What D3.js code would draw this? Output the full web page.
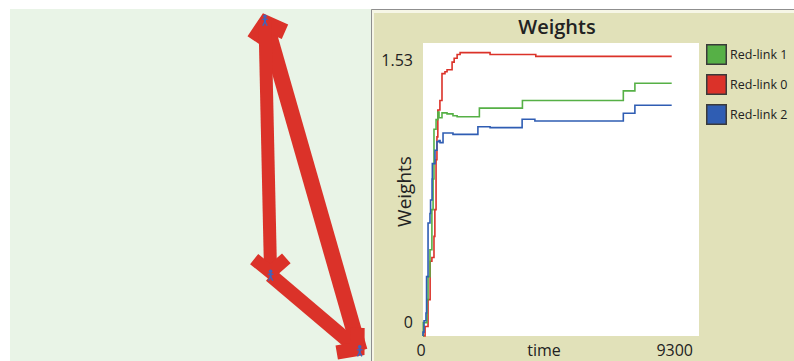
<!DOCTYPE html>
<html>
<head>
<meta charset="utf-8">
<script src="https://cdn.jsdelivr.net/npm/d3@7"></script>
<style>
  body { margin: 0; background: #fff; }
  text { font-family: "Open Sans", sans-serif; fill: #222; }
</style>
</head>
<body>
<svg id="chart" width="794" height="361"></svg>
<script>
// weights over time, step series
const link0Time = [0, 70, 170, 240, 300, 370, 400, 440, 470, 500, 570, 640, 740, 810, 980, 1050, 1150, 1250, 2260, 3800];
const link0Weight = [0, 0.05, 0.19, 0.39, 0.41, 0.52, 0.66, 0.92, 1.04, 1.18, 1.23, 1.37, 1.38, 1.39, 1.43, 1.45, 1.47, 1.48, 1.47, 1.46];
const link1Time = [0, 10, 135, 170, 235, 300, 340, 370, 440, 500, 540, 640, 810, 1010, 1150, 1900, 3350, 6750, 7140];
const link1Weight = [0, 0.07, 0.19, 0.31, 0.45, 0.66, 0.82, 1.08, 1.13, 1.17, 1.14, 1.165, 1.16, 1.15, 1.145, 1.19, 1.23, 1.28, 1.32];
const link2Time = [0, 0, 35, 100, 120, 170, 235, 255, 305, 315, 405, 470, 540, 575, 675, 1010, 1850, 2260, 3340, 3770, 6750, 7140];
const link2Weight = [0, 0.02, 0.08, 0.12, 0.31, 0.59, 0.64, 0.71, 0.82, 0.90, 0.97, 1.015, 1.02, 1.01, 1.06, 1.053, 1.093, 1.088, 1.132, 1.123, 1.163, 1.205];
const lastTime = 8380;

const xTicks = [0, 9300];
const yTicks = [0, 1.53];
const legendNames = ["Red-link 1", "Red-link 0", "Red-link 2"];

// network view: turtles in world coords, links point from -> to
const nodeX = [6.6, 7.1, 15.0];
const nodeY = [15.0, -7.6, -14.3];
const linkFrom = [2, 1, 0];
const linkTo = [0, 2, 1];
const linkName = ["Red-link 0", "Red-link 1", "Red-link 2"];

const colors = { "Red-link 0": "#db3229", "Red-link 1": "#56b046", "Red-link 2": "#2f5db3" };
const series = {
  "Red-link 0": link0Time.map((t, i) => ({ t: t, w: link0Weight[i] })),
  "Red-link 1": link1Time.map((t, i) => ({ t: t, w: link1Weight[i] })),
  "Red-link 2": link2Time.map((t, i) => ({ t: t, w: link2Weight[i] }))
};
Object.values(series).forEach(s => s.push({ t: lastTime, w: s[s.length - 1].w }));

const svg = d3.select("#chart");

/* ---------- left: network view ---------- */
const view = { x0: 10, x1: 371, y0: 9, y1: 361 };
svg.append("rect")
  .attr("x", view.x0).attr("y", view.y0)
  .attr("width", view.x1 - view.x0).attr("height", view.y1 - view.y0)
  .attr("fill", "#e9f4e7");

svg.append("clipPath").attr("id", "viewClip")
  .append("rect")
  .attr("x", view.x0).attr("y", view.y0)
  .attr("width", view.x1 - view.x0).attr("height", view.y1 - view.y0);

const wx = d3.scaleLinear().domain([-16, 16]).range([10, 371]);
const wy = d3.scaleLinear().domain([16, -16]).range([9, 370]);

const net = svg.append("g").attr("clip-path", "url(#viewClip)");

linkName.forEach((name, i) => {
  const s = series[name];
  const thick = s[s.length - 1].w * 10.8;
  const ax = wx(nodeX[linkFrom[i]]), ay = wy(nodeY[linkFrom[i]]);
  const bx = wx(nodeX[linkTo[i]]), by = wy(nodeY[linkTo[i]]);
  const len = Math.hypot(bx - ax, by - ay);
  const ux = (bx - ax) / len, uy = (by - ay) / len;
  const tx = bx - ux * 3, ty = by - uy * 3;

  net.append("line")
    .attr("x1", ax).attr("y1", ay).attr("x2", tx).attr("y2", ty)
    .attr("stroke", "#db3229").attr("stroke-width", thick);

  // V shaped arrow head
  const armLen = 21, ang = 50 * Math.PI / 180;
  const rx = -ux, ry = -uy;
  const arm = a => [tx + armLen * (rx * Math.cos(a) - ry * Math.sin(a)),
                    ty + armLen * (rx * Math.sin(a) + ry * Math.cos(a))];
  const p1 = arm(ang), p2 = arm(-ang);
  net.append("path")
    .attr("d", `M${p1[0]},${p1[1]}L${tx},${ty}L${p2[0]},${p2[1]}`)
    .attr("fill", "none")
    .attr("stroke", "#db3229").attr("stroke-width", thick)
    .attr("stroke-linejoin", "miter");
});

// little person shapes on the turtles
nodeX.forEach((x, i) => {
  const g = net.append("g")
    .attr("transform", `translate(${wx(x)},${wy(nodeY[i])})`)
    .attr("stroke", "#3f64bd").attr("fill", "#3f64bd");
  g.append("circle").attr("cx", 0).attr("cy", -4).attr("r", 1.8).attr("stroke", "none");
  g.append("line").attr("x1", 0).attr("y1", -2.5).attr("x2", 0).attr("y2", 1.8).attr("stroke-width", 2);
  g.append("line").attr("x1", -2.8).attr("y1", -1).attr("x2", 2.8).attr("y2", -1).attr("stroke-width", 1.3);
  g.append("path").attr("d", "M-2.2,5.5L0,1.3L2.2,5.5").attr("fill", "none").attr("stroke-width", 1.4);
});

/* ---------- right: plot panel ---------- */
svg.append("rect")
  .attr("x", 371).attr("y", 9).attr("width", 423).attr("height", 352)
  .attr("fill", "#e1e1b9");
svg.append("path")
  .attr("d", "M372.5,361V11.5H794")
  .attr("fill", "none").attr("stroke", "#f6f6e6").attr("stroke-width", 3);
svg.append("path")
  .attr("d", "M371.5,361V9.5H794")
  .attr("fill", "none").attr("stroke", "#8f8f8f").attr("stroke-width", 1);

const plot = { left: 423, right: 699, top: 43, bottom: 336 };
const x = d3.scaleLinear().domain([0, 9300]).range([plot.left, plot.right]);
const y = d3.scaleLinear().domain([0, 1.53]).range([plot.bottom, plot.top]);

svg.append("rect")
  .attr("x", plot.left).attr("y", plot.top)
  .attr("width", plot.right - plot.left).attr("height", plot.bottom - plot.top)
  .attr("fill", "#fff");

svg.append("text")
  .attr("x", 557).attr("y", 34)
  .attr("text-anchor", "middle")
  .style("font-size", "20px").style("font-weight", 600)
  .text("Weights");

svg.append("text")
  .attr("transform", `translate(411,${(plot.top + plot.bottom) / 2 + 2}) rotate(-90)`)
  .attr("text-anchor", "middle")
  .style("font-size", "19px")
  .text("Weights");

// NetLogo style min / max labels
svg.append("text")
  .attr("x", plot.left - 10).attr("y", y(yTicks[1]) + 23)
  .attr("text-anchor", "end").style("font-size", "16px")
  .text(yTicks[1]);
svg.append("text")
  .attr("x", plot.left - 10).attr("y", y(yTicks[0]) - 8)
  .attr("text-anchor", "end").style("font-size", "16px")
  .text(yTicks[0]);
svg.append("text")
  .attr("x", x(xTicks[0]) - 2).attr("y", 356)
  .attr("text-anchor", "middle").style("font-size", "16px")
  .text(xTicks[0]);
svg.append("text")
  .attr("x", x(xTicks[1]) - 6).attr("y", 356)
  .attr("text-anchor", "end").style("font-size", "16px")
  .text(xTicks[1]);
svg.append("text")
  .attr("x", 544).attr("y", 356)
  .attr("text-anchor", "middle").style("font-size", "16px")
  .text("time");

const line = d3.line()
  .curve(d3.curveStepAfter)
  .x(d => x(d.t))
  .y(d => y(d.w));

["Red-link 0", "Red-link 1", "Red-link 2"].forEach(name => {
  svg.append("path")
    .datum(series[name])
    .attr("fill", "none")
    .attr("stroke", colors[name])
    .attr("stroke-width", 1.6)
    .attr("d", line);
});

// legend
const legend = svg.append("g").attr("transform", "translate(706,44)");
legendNames.forEach((name, i) => {
  const row = legend.append("g").attr("transform", `translate(0,${i * 30})`);
  row.append("rect")
    .attr("x", 0.75).attr("y", 0.75).attr("width", 19.5).attr("height", 19.5)
    .attr("fill", colors[name]).attr("stroke", "#3a3a3a").attr("stroke-width", 1.5);
  row.append("text")
    .attr("x", 24).attr("y", 15)
    .style("font-size", "12.5px")
    .text(name);
});
</script>
</body>
</html>
